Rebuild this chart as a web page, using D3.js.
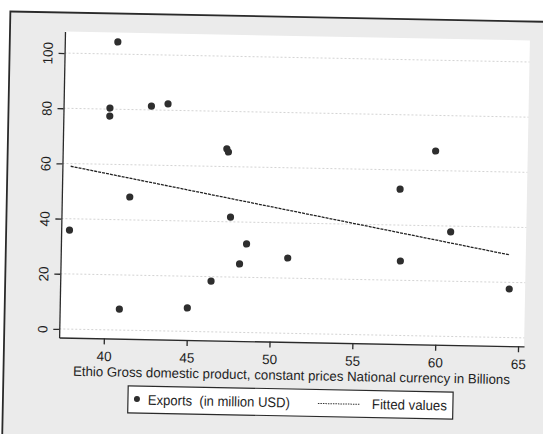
<!DOCTYPE html>
<html>
<meta charset="utf-8">
<title>Exports vs GDP</title>
<style>
body { margin: 0; background: #fff; }
text { font-family: "Liberation Sans", Arial, sans-serif; fill: #1e1e1e; }
</style>
<body>
<div id="chart"></div>
<script src="https://cdn.jsdelivr.net/npm/d3@7"></script>
<script>
// values
var gdp     = [37.8, 40.5, 40.1, 40.1, 42.6, 43.6, 47.2, 47.3, 41.4, 47.5, 40.9,
               45.0, 46.4, 48.1, 48.5, 51.0, 57.8, 60.8, 64.4, 59.8, 57.7];
var exports = [35.9, 104.4, 80.4, 77.5, 81.4, 82.3, 66.4, 65.3, 48.3, 41.7, 7.6,
               8.5, 18.4, 24.8, 32.1, 27.3, 27.0, 37.9, 17.6, 67.1, 53.0];
var xTicks = [40, 45, 50, 55, 60, 65];
var yTicks = [0, 20, 40, 60, 80, 100];
var legendLabels = ["Exports  (in million USD)", "Fitted values"];
var xTitle = "Ethio Gross domestic product, constant prices National currency in Billions";

var width = 543, height = 434;
var plot = {left: 62, top: 36, right: 527, bottom: 342};

var svg = d3.select("#chart").append("svg")
  .attr("width", width).attr("height", height);

// the scan is a little tilted
var g = svg.append("g").attr("transform", "rotate(1.1,295,190)");

// outer graph region
g.append("rect")
  .attr("x", 7).attr("y", 17).attr("width", 620).attr("height", 500)
  .attr("fill", "#ebebeb").attr("stroke", "#2a2a2a").attr("stroke-width", 1.8);

g.append("rect")
  .attr("x", plot.left).attr("y", plot.top)
  .attr("width", plot.right - plot.left).attr("height", plot.bottom - plot.top)
  .attr("fill", "#fff");

var x = d3.scaleLinear().domain([37.3, 65.36]).range([plot.left, plot.right]);
var y = d3.scaleLinear().domain([-3.1, 107.8]).range([plot.bottom, plot.top]);

// grid
g.selectAll(".grid").data(yTicks).enter().append("line")
  .attr("x1", plot.left).attr("x2", plot.right)
  .attr("y1", function(d){ return y(d); }).attr("y2", function(d){ return y(d); })
  .attr("stroke", "#c8c8c8").attr("stroke-width", 0.8)
  .attr("stroke-dasharray", "2,2");

// axes
var yAxis = g.append("g")
  .attr("transform", "translate(" + plot.left + ",0)")
  .call(d3.axisLeft(y).tickValues(yTicks).tickSize(6).tickSizeOuter(0));
yAxis.selectAll("text")
  .attr("transform", "rotate(-90)")
  .attr("x", 0).attr("y", -12).attr("dy", 0)
  .attr("text-anchor", "middle")
  .style("font-size", "13.5px");

var xAxis = g.append("g")
  .attr("transform", "translate(0," + plot.bottom + ")")
  .call(d3.axisBottom(x).tickValues(xTicks).tickSize(6).tickSizeOuter(0).tickPadding(7));
xAxis.selectAll("text").style("font-size", "13.5px");

g.selectAll(".domain, .tick line").attr("stroke", "#2a2a2a").attr("stroke-width", 1.3);

// fitted values (OLS of exports on gdp)
var mx = d3.mean(gdp), my = d3.mean(exports);
var sxy = d3.sum(gdp, function(v, i){ return (v - mx) * (exports[i] - my); });
var sxx = d3.sum(gdp, function(v){ return (v - mx) * (v - mx); });
var slope = sxy / sxx, intercept = my - slope * mx;
var xr = d3.extent(gdp);
var fitted = xr.map(function(v){ return [v, intercept + slope * v]; });

g.append("path")
  .datum(fitted)
  .attr("d", d3.line().x(function(d){ return x(d[0]); }).y(function(d){ return y(d[1]); }))
  .attr("fill", "none").attr("stroke", "#222")
  .attr("stroke-width", 1.3).attr("stroke-dasharray", "3,1");

// points
g.selectAll(".pt").data(gdp).enter().append("circle")
  .attr("cx", function(d){ return x(d); })
  .attr("cy", function(d, i){ return y(exports[i]); })
  .attr("r", 3.6)
  .attr("fill", "#2e2e2e");

// x title
g.append("text")
  .attr("x", 295).attr("y", 380)
  .attr("text-anchor", "middle")
  .style("font-size", "13.5px")
  .attr("textLength", 437).attr("lengthAdjust", "spacingAndGlyphs")
  .text(xTitle);

// legend
var lg = g.append("g");
lg.append("rect")
  .attr("x", 132).attr("y", 389).attr("width", 325).attr("height", 27)
  .attr("fill", "#fff").attr("stroke", "#2a2a2a").attr("stroke-width", 1.2);
lg.append("circle").attr("cx", 141).attr("cy", 402).attr("r", 3).attr("fill", "#2e2e2e");
lg.append("text").attr("x", 152).attr("y", 407.5)
  .style("font-size", "14px").style("white-space", "pre")
  .attr("textLength", 142).attr("lengthAdjust", "spacingAndGlyphs")
  .text(legendLabels[0]);
lg.append("line")
  .attr("x1", 322).attr("x2", 364).attr("y1", 403).attr("y2", 403)
  .attr("stroke", "#333").attr("stroke-width", 1).attr("stroke-dasharray", "1.5,1");
lg.append("text").attr("x", 376).attr("y", 407.5)
  .style("font-size", "14px")
  .attr("textLength", 75).attr("lengthAdjust", "spacingAndGlyphs")
  .text(legendLabels[1]);
</script>
</body>
</html>
